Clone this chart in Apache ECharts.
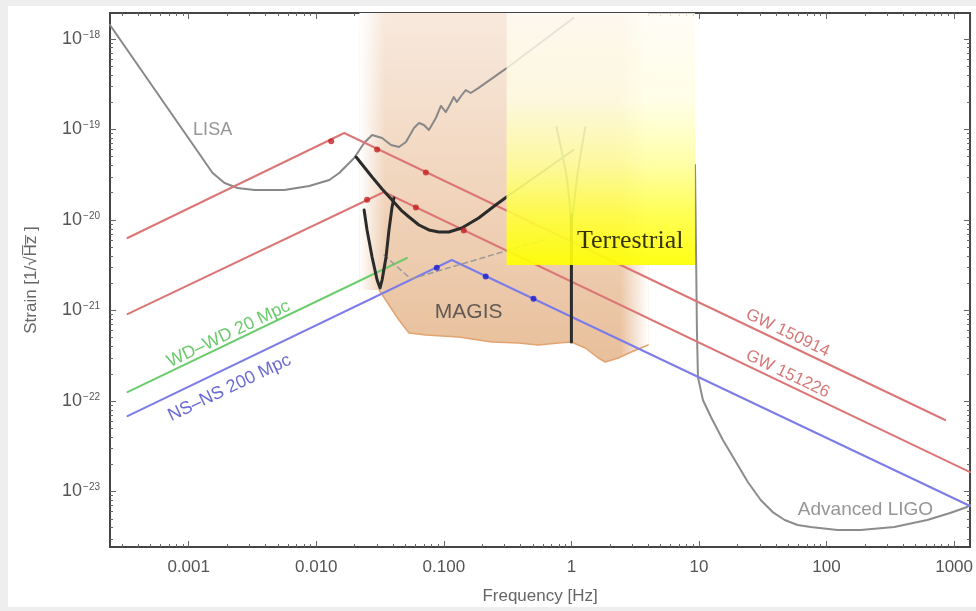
<!DOCTYPE html>
<html>
<head>
<meta charset="utf-8">
<script src="https://cdn.jsdelivr.net/npm/echarts@6/dist/echarts.min.js"></script>
<style>
  html, body { margin: 0; padding: 0; background: #ffffff; }
  #chart { width: 976px; height: 611px; }
</style>
</head>
<body>
<div id="chart"></div>
<script>
// Every curve is a list of [log10(frequency / Hz), log10(strain / Hz^-1/2)] pairs.
const xDecades = [-3, -2, -1, 0, 1, 2, 3];
const xTickLabels = ['0.001', '0.010', '0.100', '1', '10', '100', '1000'];
const yDecades = [-23, -22, -21, -20, -19, -18];
const yTickExponents = ['\u221223', '\u221222', '\u221221', '\u221220', '\u221219', '\u221218'];
const xRange = [-3.617, 3.125];
const yRange = [-23.613, -17.713];

const lisa = [
  [-3.617, -17.845], [-2.8125, -19.481], [-2.719, -19.591], [-2.617, -19.646],
  [-2.484, -19.669], [-2.25, -19.669], [-2.055, -19.624], [-1.898, -19.558],
  [-1.820, -19.481], [-1.703, -19.315], [-1.625, -19.149], [-1.5625, -19.061],
  [-1.484, -19.094], [-1.414, -19.171], [-1.352, -19.193], [-1.297, -19.138],
  [-1.234, -18.983], [-1.195, -18.928], [-1.156, -18.950], [-1.117, -19.006],
  [-1.0625, -18.873], [-1.023, -18.740], [-0.984, -18.807], [-0.945, -18.707],
  [-0.922, -18.641], [-0.898, -18.696], [-0.859, -18.619], [-0.828, -18.564],
  [-0.789, -18.597], [-0.727, -18.541], [-0.516, -18.331], [0.016, -17.768]
];

const advancedLigo = [
  [0.969, -19.392], [0.977, -20.331], [0.984, -21.215], [0.992, -21.735],
  [1.031, -21.989], [1.094, -22.177], [1.1875, -22.431], [1.281, -22.652],
  [1.383, -22.895], [1.484, -23.094], [1.578, -23.227], [1.672, -23.315],
  [1.773, -23.370], [1.875, -23.392], [2.086, -23.425], [2.266, -23.425],
  [2.531, -23.392], [2.789, -23.315], [2.969, -23.238], [3.102, -23.171],
  [3.125, -23.149]
];

const gw150914 = [[-3.48, -20.199], [-1.781, -19.039], [2.930, -22.210]];
const gw150914Points = [[-1.883, -19.130], [-1.523, -19.220], [-1.141, -19.475]];
const gw151226 = [[-3.48, -21.039], [-1.469, -19.691], [3.125, -22.785]];
const gw151226Points = [[-1.602, -19.775], [-1.219, -19.862], [-0.844, -20.115]];
const wdwd20 = [[-3.48, -21.901], [-1.289, -20.420]];
const nsns200 = [[-3.48, -22.166], [-0.9375, -20.442], [3.125, -23.160]];
const nsns200Points = [[-1.055, -20.527], [-0.672, -20.625], [-0.297, -20.870]];

const magisBroadband = [
  [-1.6875, -19.304], [-1.625, -19.414], [-1.5625, -19.525], [-1.484, -19.657],
  [-1.406, -19.779], [-1.336, -19.890], [-1.273, -19.967], [-1.195, -20.055],
  [-1.117, -20.110], [-1.039, -20.133], [-0.961, -20.133], [-0.859, -20.088],
  [-0.727, -19.978], [-0.594, -19.834], [-0.508, -19.746]
];
const magisBroadbandHigh = [[-0.508, -19.746], [0.016, -19.227]];
const magisResonant = [
  [-1.625, -19.890], [-1.602, -20.110], [-1.5625, -20.409], [-1.523, -20.663],
  [-1.5, -20.751], [-1.484, -20.663], [-1.453, -20.409], [-1.430, -20.110],
  [-1.406, -19.856], [-1.391, -19.757]
];
const magisDashed = [[-1.469, -20.387], [-1.258, -20.652], [-0.516, -20.343], [-0.219, -20.221]];
const magisFloor = [
  [-1.508, -20.773], [-1.430, -20.939], [-1.352, -21.105], [-1.273, -21.249],
  [-1.141, -21.271], [-0.883, -21.293], [-0.625, -21.348], [-0.414, -21.359],
  [-0.258, -21.381], [-0.102, -21.359], [0.0, -21.348], [0.109, -21.414],
  [0.211, -21.525], [0.266, -21.569], [0.367, -21.525], [0.469, -21.459],
  [0.602, -21.381]
];
const magisBandX = [-1.66, 0.602];
const magisFadeLeft = [-1.66, -1.46];
const magisFadeRight = [0.383, 0.602];

const terrestrialLeft = [[-0.117, -18.972], [-0.078, -19.227], [-0.039, -19.503], [-0.016, -19.779], [0.0, -20.055]];
const terrestrialRight = [[0.109, -18.972], [0.078, -19.227], [0.047, -19.503], [0.023, -19.779], [0.0, -20.055]];
const terrestrialStem = [[0.0, -19.945], [0.0, -21.348]];
const terrestrialBoxX = [-0.508, 0.969];
const terrestrialBoxBottom = -20.497;

const labelTexts = ['LISA', 'MAGIS', 'Terrestrial', 'GW 150914', 'GW 151226',
  'WD\u2013WD 20 Mpc', 'NS\u2013NS 200 Mpc', 'Advanced LIGO'];
const labelAnchors = [[-2.8125, -19.006], [-0.805, -21.017], [0.461, -20.232],
  [1.695, -21.249], [1.695, -21.702], [-2.6875, -21.26], [-2.68, -21.856], [2.305, -23.204]];

// ---- styling ----
const SANS = "'Liberation Sans', Arial, Helvetica, sans-serif";
const labelStyles = [
  { color: '#7a7a7a', fontSize: 18 },
  { color: '#3f3f3f', fontSize: 21 },
  { color: '#000000', fontSize: 26, fontFamily: "'Liberation Serif', 'Times New Roman', serif" },
  { color: '#cc5656', fontSize: 17, rotate: -25.5 },
  { color: '#cc5656', fontSize: 17, rotate: -25.5 },
  { color: '#46bd46', fontSize: 18, rotate: 25.5 },
  { color: '#4545c8', fontSize: 18, rotate: 25.5 },
  { color: '#7a7a7a', fontSize: 19 }
];

function minorTicks(lo, hi) {
  const out = [];
  for (let e = Math.floor(lo) - 1; e <= Math.ceil(hi); e++) {
    for (let k = 2; k <= 9; k++) {
      const v = e + Math.log10(k);
      if (v > lo && v < hi) out.push(v);
    }
  }
  return out;
}
const xMinor = minorTicks(xRange[0], xRange[1]);
const yMinor = minorTicks(yRange[0], yRange[1]);

const tickLine = { color: '#666666', width: 1 };

function xAxisDef(position, ticks, len, withLabels) {
  return {
    type: 'value', position, min: xRange[0], max: xRange[1],
    axisLine: { show: false, onZero: false },
    splitLine: { show: false },
    axisTick: { show: true, inside: true, length: len, customValues: ticks, lineStyle: tickLine },
    axisLabel: withLabels ? {
      customValues: xDecades,
      formatter: v => xTickLabels[xDecades.indexOf(Math.round(v))],
      color: '#555555', fontSize: 17, fontFamily: SANS, margin: 12
    } : { show: false },
    name: withLabels ? 'Frequency [Hz]' : '',
    nameLocation: 'middle', nameGap: 41,
    nameTextStyle: { color: '#666666', fontSize: 17, fontFamily: SANS }
  };
}
function yAxisDef(position, ticks, len, withLabels) {
  return {
    type: 'value', position, min: yRange[0], max: yRange[1],
    axisLine: { show: false, onZero: false },
    splitLine: { show: false },
    axisTick: { show: true, inside: true, length: len, customValues: ticks, lineStyle: tickLine },
    axisLabel: withLabels ? {
      customValues: yDecades,
      formatter: v => '{b|10}{s|' + yTickExponents[yDecades.indexOf(Math.round(v))] + '}',
      margin: 10,
      rich: {
        b: { color: '#555555', fontSize: 18, fontFamily: SANS, lineHeight: 20 },
        s: { color: '#555555', fontSize: 10, fontFamily: SANS, verticalAlign: 'top', padding: [1, 0, 0, 1] }
      }
    } : { show: false },
    name: withLabels ? 'Strain [1/\u221AH\u0305z\u0305 ]' : '',
    nameLocation: 'middle', nameGap: 70, nameRotate: 90,
    nameTextStyle: { color: '#666666', fontSize: 17, fontFamily: SANS }
  };
}

function polygonSeries(name, pointsFn, fill, z) {
  return {
    type: 'custom', name, z, silent: true, coordinateSystem: 'cartesian2d',
    data: [[0, -20]],
    renderItem: (params, api) => ({
      type: 'polygon',
      shape: { points: pointsFn().map(p => api.coord(p)) },
      style: { fill }
    })
  };
}
function lineSeries(name, data, color, width, z, type) {
  return {
    type: 'line', name, data, z, silent: true, symbol: 'none', showSymbol: false,
    lineStyle: { color, width, type: type || 'solid', cap: 'round', join: 'round' }
  };
}
function dotSeries(name, data, color, z) {
  return { type: 'scatter', name, data, z, silent: true, symbolSize: 6, itemStyle: { color } };
}

// Shaded MAGIS band: from the plot top down to the sensitivity floor
const magisPolygon = () => {
  const pts = [[magisBandX[0], yRange[1]], [magisBandX[1], yRange[1]]];
  for (let i = magisFloor.length - 1; i >= 0; i--) pts.push(magisFloor[i]);
  pts.push([magisBandX[0], magisFloor[0][1]]);
  return pts;
};
const fadeLeftPolygon = () => [
  [magisFadeLeft[0], yRange[1]], [magisFadeLeft[1], yRange[1]],
  [magisFadeLeft[1], -20.8], [magisFadeLeft[0], -20.8]
];
const fadeRightPolygon = () => [
  [magisFadeRight[0], yRange[1]], [magisFadeRight[1], yRange[1]],
  [magisFadeRight[1], -21.62], [magisFadeRight[0], -21.62]
];
const terrestrialPolygon = () => [
  [terrestrialBoxX[0], yRange[1]], [terrestrialBoxX[1], yRange[1]],
  [terrestrialBoxX[1], terrestrialBoxBottom], [terrestrialBoxX[0], terrestrialBoxBottom]
];

const G = echarts.graphic.LinearGradient;
const magisFill = new G(0, 0, 0, 1, [
  { offset: 0, color: '#f8e9dd' }, { offset: 0.5, color: '#f1d5bd' }, { offset: 1, color: '#e8bf9b' }
]);
const fadeLeftFill = new G(0, 0, 1, 0, [
  { offset: 0, color: 'rgba(255,255,255,1)' }, { offset: 1, color: 'rgba(255,255,255,0)' }
]);
const fadeRightFill = new G(0, 0, 1, 0, [
  { offset: 0, color: 'rgba(255,255,255,0)' }, { offset: 1, color: 'rgba(255,255,255,1)' }
]);
const terrestrialFill = new G(0, 0, 0, 1, [
  { offset: 0, color: 'rgba(255,252,244,0.78)' },
  { offset: 0.35, color: 'rgba(255,254,225,0.8)' },
  { offset: 0.6, color: 'rgba(255,255,150,0.84)' },
  { offset: 0.8, color: 'rgba(255,255,60,0.88)' },
  { offset: 1, color: 'rgba(255,255,0,0.92)' }
]);

const labelSeries = {
  type: 'scatter', name: 'labels', z: 20, silent: true, symbolSize: 0,
  data: labelTexts.map((t, i) => ({
    value: labelAnchors[i],
    label: Object.assign({
      show: true, position: 'inside', formatter: t, fontFamily: SANS
    }, labelStyles[i])
  }))
};

const chart = echarts.init(document.getElementById('chart'), null, { renderer: 'canvas' });
chart.setOption({
  animation: false,
  backgroundColor: '#ffffff',
  graphic: [
    { type: 'rect', left: 0, top: 0, shape: { width: 976, height: 6 }, style: { fill: '#eeeeee' }, z: -1 },
    { type: 'rect', left: 0, top: 0, shape: { width: 8, height: 611 }, style: { fill: '#eeeeee' }, z: -1 },
    { type: 'rect', left: 0, top: 607, shape: { width: 976, height: 4 }, style: { fill: '#eeeeee' }, z: -1 }
  ],
  grid: {
    left: 110, right: 3, top: 13, bottom: 64,
    show: true, borderColor: '#454545', borderWidth: 2, backgroundColor: 'transparent'
  },
  xAxis: [
    xAxisDef('bottom', xDecades, 6, true),
    xAxisDef('top', xDecades, 6, false),
    xAxisDef('top', xMinor, 3, false),
    xAxisDef('bottom', xMinor, 3, false)
  ],
  yAxis: [
    yAxisDef('left', yDecades, 6, true),
    yAxisDef('right', yDecades, 6, false),
    yAxisDef('right', yMinor, 3, false),
    yAxisDef('left', yMinor, 3, false)
  ],
  series: [
    polygonSeries('MAGIS band', magisPolygon, magisFill, 1),
    polygonSeries('band fade left', fadeLeftPolygon, fadeLeftFill, 2),
    polygonSeries('band fade right', fadeRightPolygon, fadeRightFill, 2),
    lineSeries('MAGIS floor', magisFloor, '#e2a36f', 1.5, 3),
    lineSeries('LISA', lisa, '#888888', 2, 4),
    lineSeries('Advanced LIGO', advancedLigo, '#8c8c8c', 2, 4),
    lineSeries('GW 150914', gw150914, '#dc7676', 2, 4),
    lineSeries('GW 151226', gw151226, '#dc7676', 2, 4),
    lineSeries('WD-WD 20 Mpc', wdwd20, '#6ccc6c', 2, 4),
    lineSeries('NS-NS 200 Mpc', nsns200, '#7c7ce8', 2, 4),
    lineSeries('MAGIS dashed', magisDashed, '#999999', 1.5, 4, [5, 4]),
    lineSeries('MAGIS broadband', magisBroadband, '#2b2b2b', 3, 5),
    lineSeries('MAGIS broadband high', magisBroadbandHigh, '#6a6a6a', 2, 5),
    lineSeries('MAGIS resonant', magisResonant, '#2b2b2b', 3, 5),
    lineSeries('Terrestrial left', terrestrialLeft, '#7a7a7a', 2, 5),
    lineSeries('Terrestrial right', terrestrialRight, '#7a7a7a', 2, 5),
    lineSeries('Terrestrial stem', terrestrialStem, '#2b2b2b', 3, 5),
    dotSeries('GW 150914 points', gw150914Points, '#c42020', 6),
    dotSeries('GW 151226 points', gw151226Points, '#c42020', 6),
    dotSeries('NS-NS points', nsns200Points, '#1a1ad0', 6),
    polygonSeries('Terrestrial', terrestrialPolygon, terrestrialFill, 10),
    labelSeries
  ]
});
</script>
</body>
</html>
